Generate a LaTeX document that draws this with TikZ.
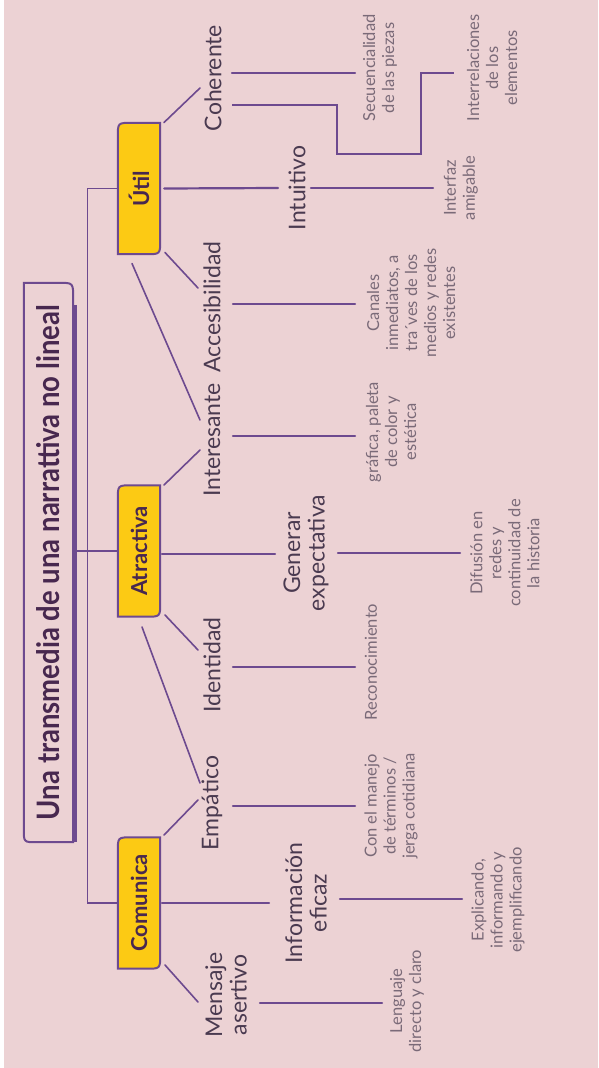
\documentclass[tikz,border=0pt]{standalone}
\usepackage{fontspec}
\setmainfont{Lato}
\usetikzlibrary{calc,backgrounds}
\definecolor{bg}{HTML}{ECD2D4}
\definecolor{lin}{HTML}{6D4A8F}
\definecolor{yel}{HTML}{FCCA14}
\definecolor{dark}{HTML}{48284F}
\definecolor{mid}{HTML}{4A3A50}
\definecolor{lite}{HTML}{7A6A78}
\tikzset{
  lvtwo/.style={rotate=90, align=center, inner sep=0pt, text=mid, font=\fontsize{23}{24.5}\selectfont},
  lvthree/.style={rotate=90, align=center, inner sep=0pt, text=lite, font=\fontsize{16.5}{19}\selectfont},
  ybox/.style={minimum width=42pt, minimum height=131pt, inner sep=0pt, text=dark, font=\fontsize{22}{26}\selectfont\bfseries},
  titlebox/.style={minimum width=49pt, minimum height=559pt, inner sep=0pt, text=dark},
  boxline/.style={draw=lin, line width=2pt, fill=yel},
  hline/.style={draw=lin, line width=2.2pt, line cap=round},
  dline/.style={draw=lin, line width=1.6pt, line cap=round},
  rline/.style={draw=lin, line width=1.2pt},
}
\newcommand\yboxpath[1]{%
  \begin{scope}[on background layer]
  \draw[boxline] ($(#1.north west)+(0,14)$) .. controls (#1.north west) .. ($(#1.north west)+(14,0)$)
    -- (#1.north east) -- ($(#1.south east)+(0,-14)$) .. controls (#1.south east) .. ($(#1.south east)+(-14,0)$)
    -- (#1.south west) -- cycle;
  \end{scope}}
\begin{document}
\begin{tikzpicture}[x=1pt,y=-1pt]
\useasboundingbox (0,0) rectangle (598,1068);
\begin{scope}[on background layer]
\fill[white] (0,0) rectangle (598,1068);
\fill[bg] (4,0) rectangle (598,1068);
\end{scope}

% title
\node[titlebox] (title) at (48.5,562.5) {\rotatebox{90}{\resizebox{515pt}{23pt}{\bfseries Una transmedia de una narrattiva no lineal}}};
\draw[lin, line width=2pt] (title.north west) -- ($(title.north east)+(-14,0)$) .. controls (title.north east) .. ($(title.north east)+(0,16)$)
  -- (title.south east) -- ($(title.south west)+(13,0)$) .. controls (title.south west) .. ($(title.south west)+(0,-13)$) -- cycle;
\draw[lin, line width=3.5pt] ($(title.north east)+(2.5,22)$) -- ($(title.south east)+(2.5,0)$);

% yellow boxes
\node[ybox] (util) at (139,188.5) {\rotatebox{90}{Útil}};
\node[ybox] (atr) at (139,551) {\rotatebox{90}{Atractiva}};
\node[ybox] (com) at (139,903) {\rotatebox{90}{Comunica}};
\yboxpath{util}
\yboxpath{atr}
\yboxpath{com}

% level two
\node[lvtwo] (coh) at (213,78) {Coherente};
\node[lvtwo] (int) at (297,188) {Intuitivo};
\node[lvtwo] (acc) at (212,307) {Accesibilidad};
\node[lvtwo] (inte) at (212,440) {Interesante};
\node[lvtwo] (gen) at (306,553) {Generar\\expectativa};
\node[lvtwo] (ide) at (212,665) {Identidad};
\node[lvtwo] (emp) at (212,803) {Empático};
\node[lvtwo] (inf) at (306,903) {Información\\eficaz};
\node[lvtwo] (men) at (226,995) {Mensaje\\asertivo};

% level three
\node[lvthree] (sec) at (380,68) {Secuencialidad\\de las piezas};
\node[lvthree] (intr) at (492,68) {Interrelaciones\\de los\\elementos};
\node[lvthree] (inter) at (461,188) {Interfaz\\amigable};
\node[lvthree] (can) at (411,303) {Canales\\inmediatos, a\\tra´ves de los\\medios y redes\\existentes};
\node[lvthree] (gra) at (391,432) {gráfica, paleta\\de color y\\estética};
\node[lvthree] (dif) at (505,553) {Difusión en\\redes y\\continuidad de\\la historia};
\node[lvthree] (rec) at (371,662) {Reconocimiento};
\node[lvthree] (con) at (391,806) {Con el manejo\\de términos /\\jerga cotidiana};
\node[lvthree] (exp) at (498,900) {Explicando,\\informando y\\ejemplificando};
\node[lvthree] (len) at (407,1001) {Lenguaje\\directo y claro};

% root connectors
\draw[rline] (util.west) -- ++(-30,0) |- (com.west);
\draw[rline] ($(title.east |- atr.west)+(2,0)$) -- (atr.west);

% Util branch
\draw[dline] ($(util)+(25,-66)$) -- ($(coh)+(-13,10)$);
\draw[hline] ($(util.east)+(4,0)$) -- ($(int)+(-19,0)$);
\draw[hline] ($(int)+(14,0)$) -- ($(inter)+(-28,0)$);
\draw[dline] ($(util)+(26,64)$) -- ($(acc)+(-14,-19)$);
\draw[dline] ($(util)+(-7,75)$) -- ($(inte)+(-12,-20)$);
\draw[hline] ($(acc)+(21,-3)$) -- ($(can)+(-56,1)$);
\draw[hline] ($(coh)+(19,-5)$) -- ($(sec)+(-25,5)$);
\draw[hline, line cap=butt] ($(coh)+(19,27)$) -- ++(105,0) -- ++(0,49) -- ++(84,0) |- ($(intr)+(-38,5)$);

% Atractiva branch
\draw[dline] ($(atr)+(25,-66)$) -- ($(inte)+(-12,10)$);
\draw[hline] ($(inte)+(21,-4)$) -- ($(gra)+(-36,4)$);
\draw[hline] ($(atr)+(23,3)$) -- ($(gen)+(-31,1)$);
\draw[hline] ($(gen)+(32,0)$) -- ($(dif)+(-45,0)$);
\draw[dline] ($(atr)+(26,64)$) -- ($(ide)+(-14,-15)$);
\draw[hline] ($(ide)+(21,2)$) -- ($(rec)+(-16,5)$);
\draw[dline] ($(atr)+(3,76)$) -- ($(emp)+(-12,-20)$);

% Comunica branch
\draw[dline] ($(com)+(25,-68)$) -- ($(emp)+(-14,-3)$);
\draw[hline] ($(emp)+(21,3)$) -- ($(con)+(-36,0)$);
\draw[hline] ($(com)+(23,0)$) -- ($(inf)+(-37,0)$);
\draw[hline] ($(inf)+(34,-4)$) -- ($(exp)+(-36,-1)$);
\draw[dline] ($(com)+(26,62)$) -- ($(men)+(-28,7)$);
\draw[hline] ($(men)+(34,8)$) -- ($(len)+(-25,2)$);
\end{tikzpicture}
\end{document}
